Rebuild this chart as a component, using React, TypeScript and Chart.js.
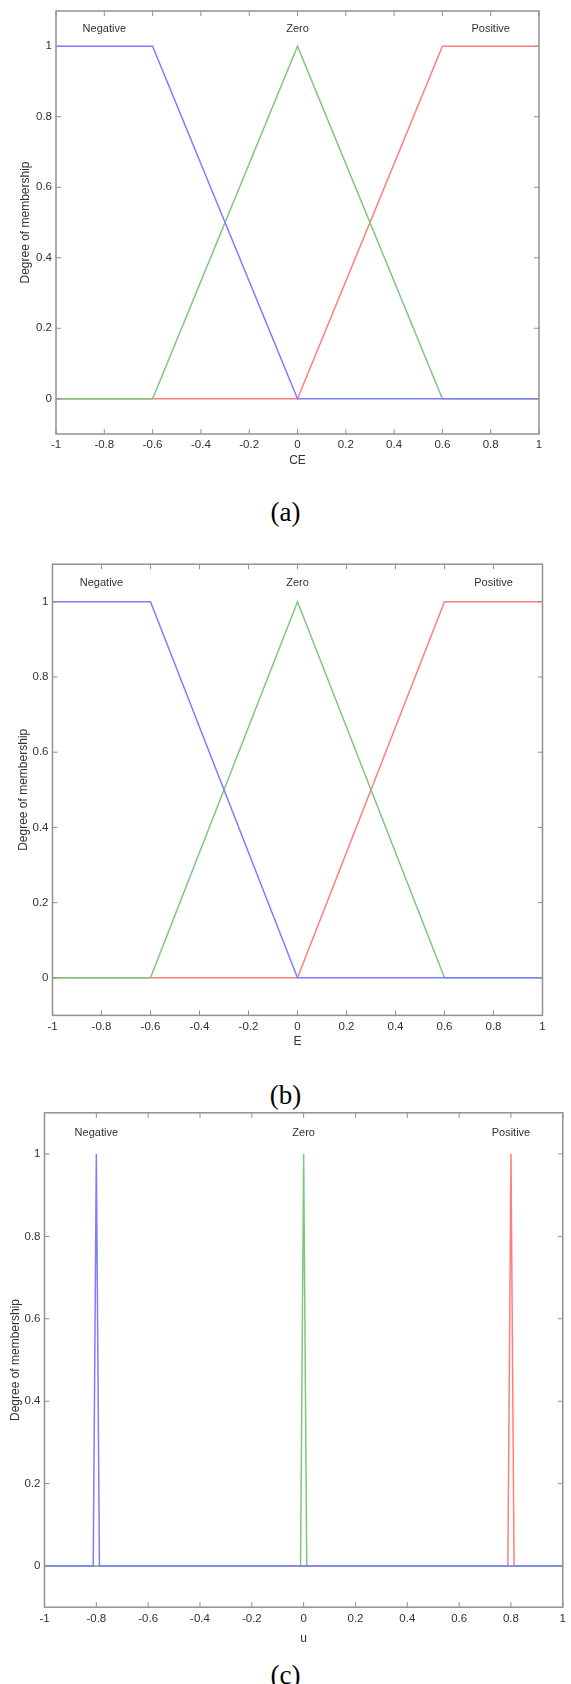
import React, { useEffect, useRef } from "react";
import { Chart, registerables } from "chart.js";

Chart.register(...registerables);

// ---------- data ----------
const X_TICKS = [-1, -0.8, -0.6, -0.4, -0.2, 0, 0.2, 0.4, 0.6, 0.8, 1];
const X_TICK_LABELS = ["-1", "-0.8", "-0.6", "-0.4", "-0.2", "0", "0.2", "0.4", "0.6", "0.8", "1"];
const Y_TICKS = [0, 0.2, 0.4, 0.6, 0.8, 1];
const Y_TICK_LABELS = ["0", "0.2", "0.4", "0.6", "0.8", "1"];
const MF_NAMES = ["Negative", "Zero", "Positive"];
const Y_TITLE = "Degree of membership";

// (a) CE
const CE_NEG_X = [-1, -0.6, 0, 1];
const CE_NEG_Y = [1, 1, 0, 0];
const CE_ZERO_X = [-1, -0.6, 0, 0.6, 1];
const CE_ZERO_Y = [0, 0, 1, 0, 0];
const CE_POS_X = [-1, 0, 0.6, 1];
const CE_POS_Y = [0, 0, 1, 1];

// (b) E
const E_NEG_X = [-1, -0.6, 0, 1];
const E_NEG_Y = [1, 1, 0, 0];
const E_ZERO_X = [-1, -0.6, 0, 0.6, 1];
const E_ZERO_Y = [0, 0, 1, 0, 0];
const E_POS_X = [-1, 0, 0.6, 1];
const E_POS_Y = [0, 0, 1, 1];

// (c) u
const U_NEG_X = [-1, -0.812, -0.8, -0.788, 1];
const U_NEG_Y = [0, 0, 1, 0, 0];
const U_ZERO_X = [-1, -0.012, 0, 0.012, 1];
const U_ZERO_Y = [0, 0, 1, 0, 0];
const U_POS_X = [-1, 0.788, 0.8, 0.812, 1];
const U_POS_Y = [0, 0, 1, 0, 0];

// ---------- style ----------
const W = 571;
const BLUE = "rgb(125,125,255)";
const GREEN = "rgb(125,200,125)";
const RED = "rgb(255,125,125)";
const AXIS_COLOR = "rgb(145,145,145)";
const TEXT_COLOR = "rgb(50,50,50)";
const FONT_FAMILY = "'Liberation Sans', Arial, sans-serif";
const TICK_FONT = 11.5;
const TITLE_FONT = 12;
const MF_FONT = 11;
const TITLE_LH = TITLE_FONT * 1.2;
const TICK_LEN = 5;
const LABEL_Y = 1.05;

type Cfg = {
  key: string;
  canvasTop: number;
  canvasHeight: number;
  plotLeft: number;
  plotRight: number;
  plotTop: number;
  plotBottom: number;
  xTickPad: number;
  xTitle: string;
  xTitleY: number;
  yTitleX: number;
  series: { x: number[]; y: number[] }[];
  caption: string;
  captionY: number;
};

const COLORS = [BLUE, GREEN, RED];

const CHARTS: Cfg[] = [
  {
    key: "a",
    canvasTop: 0,
    canvasHeight: 475,
    plotLeft: 56,
    plotRight: 539,
    plotTop: 11,
    plotBottom: 434,
    xTickPad: 4,
    xTitle: "CE",
    xTitleY: 461,
    yTitleX: 26,
    series: [
      { x: CE_NEG_X, y: CE_NEG_Y },
      { x: CE_ZERO_X, y: CE_ZERO_Y },
      { x: CE_POS_X, y: CE_POS_Y },
    ],
    caption: "(a)",
    captionY: 512,
  },
  {
    key: "b",
    canvasTop: 545,
    canvasHeight: 510,
    plotLeft: 52.5,
    plotRight: 542.5,
    plotTop: 564.2,
    plotBottom: 1015.4,
    xTickPad: 5,
    xTitle: "E",
    xTitleY: 1042,
    yTitleX: 24,
    series: [
      { x: E_NEG_X, y: E_NEG_Y },
      { x: E_ZERO_X, y: E_ZERO_Y },
      { x: E_POS_X, y: E_POS_Y },
    ],
    caption: "(b)",
    captionY: 1095,
  },
  {
    key: "c",
    canvasTop: 1100,
    canvasHeight: 552,
    plotLeft: 44.5,
    plotRight: 569,
    plotTop: 1112.8,
    plotBottom: 1607.2,
    xTickPad: 5,
    xTitle: "u",
    xTitleY: 1639,
    yTitleX: 16,
    series: [
      { x: U_NEG_X, y: U_NEG_Y },
      { x: U_ZERO_X, y: U_ZERO_Y },
      { x: U_POS_X, y: U_POS_Y },
    ],
    caption: "(c)",
    captionY: 1675,
  },
];

const framePlugin = {
  id: "matlabFrame",
  afterDatasetsDraw(chart: any) {
    const { ctx, chartArea: a, scales } = chart;
    const x = scales.x;
    const y = scales.y;
    ctx.save();
    ctx.strokeStyle = AXIS_COLOR;
    ctx.lineWidth = 1;
    ctx.beginPath();
    for (const v of X_TICKS) {
      const px = x.getPixelForValue(v);
      ctx.moveTo(px, a.bottom);
      ctx.lineTo(px, a.bottom - TICK_LEN);
      ctx.moveTo(px, a.top);
      ctx.lineTo(px, a.top + TICK_LEN);
    }
    for (const v of Y_TICKS) {
      const py = y.getPixelForValue(v);
      ctx.moveTo(a.left, py);
      ctx.lineTo(a.left + TICK_LEN, py);
      ctx.moveTo(a.right, py);
      ctx.lineTo(a.right - TICK_LEN, py);
    }
    ctx.stroke();
    ctx.lineWidth = 1.5;
    ctx.strokeRect(a.left, a.top, a.right - a.left, a.bottom - a.top);

    ctx.fillStyle = TEXT_COLOR;
    ctx.font = `${MF_FONT}px ${FONT_FAMILY}`;
    ctx.textAlign = "center";
    ctx.textBaseline = "middle";
    chart.data.datasets.forEach((ds: any) => {
      const peaks = ds.data.filter((p: any) => p.y === 1);
      const cx = peaks.reduce((s: number, p: any) => s + p.x, 0) / peaks.length;
      ctx.fillText(ds.label, x.getPixelForValue(cx), y.getPixelForValue(LABEL_Y));
    });
    ctx.restore();
  },
};

function FuzzyChart({ cfg }: { cfg: Cfg }) {
  const ref = useRef<HTMLCanvasElement | null>(null);
  useEffect(() => {
    if (!ref.current) return;
    const bottomEdge = cfg.canvasTop + cfg.canvasHeight;
    const chart = new Chart(ref.current, {
      type: "scatter",
      data: {
        datasets: cfg.series.map((s, i) => ({
          label: MF_NAMES[i],
          data: s.x.map((xv, j) => ({ x: xv, y: s.y[j] })),
          showLine: true,
          borderColor: COLORS[i],
          backgroundColor: COLORS[i],
          borderWidth: 1.5,
          pointRadius: 0,
          tension: 0,
        })),
      },
      options: {
        animation: false,
        responsive: false,
        devicePixelRatio: 1,
        layout: {
          autoPadding: false,
          padding: {
            left: 0,
            right: W - cfg.plotRight,
            top: cfg.plotTop - cfg.canvasTop,
            bottom: 0,
          },
        },
        plugins: {
          legend: { display: false },
          tooltip: { enabled: false },
        },
        scales: {
          x: {
            type: "linear",
            min: -1,
            max: 1,
            grid: { display: false, drawTicks: false },
            border: { display: false },
            afterBuildTicks: (s: any) => {
              s.ticks = X_TICKS.map((v) => ({ value: v }));
            },
            afterFit: (s: any) => {
              s.height = bottomEdge - cfg.plotBottom;
            },
            ticks: {
              color: TEXT_COLOR,
              font: { family: FONT_FAMILY, size: TICK_FONT },
              padding: cfg.xTickPad,
              maxRotation: 0,
              autoSkip: false,
              callback: (_v: any, i: number) => X_TICK_LABELS[i],
            },
            title: {
              display: true,
              text: cfg.xTitle,
              color: TEXT_COLOR,
              font: { family: FONT_FAMILY, size: TITLE_FONT },
              padding: { top: 0, bottom: bottomEdge - cfg.xTitleY - TITLE_LH / 2 },
            },
          },
          y: {
            type: "linear",
            min: -0.1,
            max: 1.1,
            grid: { display: false, drawTicks: false },
            border: { display: false },
            afterBuildTicks: (s: any) => {
              s.ticks = Y_TICKS.map((v) => ({ value: v }));
            },
            afterFit: (s: any) => {
              s.width = cfg.plotLeft;
            },
            ticks: {
              color: TEXT_COLOR,
              font: { family: FONT_FAMILY, size: TICK_FONT },
              padding: 4,
              autoSkip: false,
              callback: (_v: any, i: number) => Y_TICK_LABELS[i],
            },
            title: {
              display: true,
              text: Y_TITLE,
              color: TEXT_COLOR,
              font: { family: FONT_FAMILY, size: TITLE_FONT },
              padding: { top: cfg.yTitleX - TITLE_LH / 2, bottom: 0 },
            },
          },
        },
      } as any,
      plugins: [framePlugin],
    });
    return () => chart.destroy();
  }, [cfg]);

  return (
    <>
      <canvas
        ref={ref}
        width={W}
        height={cfg.canvasHeight}
        style={{
          position: "absolute",
          left: 0,
          top: cfg.canvasTop,
          width: W,
          height: cfg.canvasHeight,
        }}
      />
      <div
        style={{
          position: "absolute",
          left: 0,
          width: W,
          top: cfg.captionY - 15,
          height: 30,
          lineHeight: "30px",
          textAlign: "center",
          fontFamily: "'Liberation Serif', 'Times New Roman', serif",
          fontSize: 27,
          color: "#000",
        }}
      >
        {cfg.caption}
      </div>
    </>
  );
}

export default function App() {
  return (
    <div
      style={{
        position: "absolute",
        left: 0,
        top: 0,
        width: W,
        height: 1684,
        overflow: "hidden",
        background: "#fff",
      }}
    >
      {CHARTS.map((c) => (
        <FuzzyChart key={c.key} cfg={c} />
      ))}
    </div>
  );
}
